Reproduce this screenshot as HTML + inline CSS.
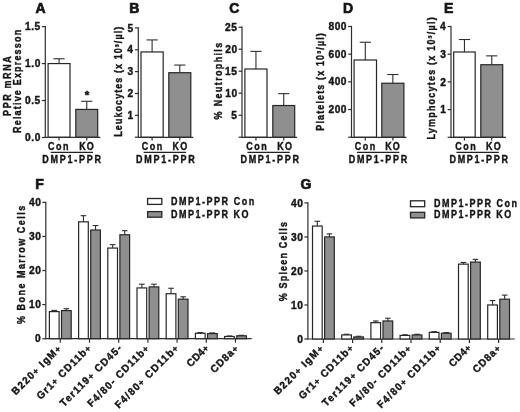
<!DOCTYPE html>
<html><head><meta charset="utf-8"><style>
html,body{margin:0;padding:0;background:#fff;}
svg{display:block;will-change:transform;}
text{font-family:"Liberation Sans", sans-serif;font-weight:bold;fill:#151515;stroke:#151515;stroke-width:0.4px;}
</style></head><body>
<svg width="520" height="412" viewBox="0 0 520 412">
<rect width="520" height="412" fill="#fff"/>
<line x1="45.30" y1="26.00" x2="45.30" y2="137.90" stroke="#2e2e2e" stroke-width="1.2"/>
<line x1="41.90" y1="137.50" x2="45.30" y2="137.50" stroke="#2e2e2e" stroke-width="1.2"/>
<line x1="41.90" y1="100.53" x2="45.30" y2="100.53" stroke="#2e2e2e" stroke-width="1.2"/>
<line x1="41.90" y1="63.57" x2="45.30" y2="63.57" stroke="#2e2e2e" stroke-width="1.2"/>
<line x1="41.90" y1="26.60" x2="45.30" y2="26.60" stroke="#2e2e2e" stroke-width="1.2"/>
<rect x="48.10" y="63.57" width="21.90" height="73.73" fill="#fff" stroke="#262626" stroke-width="1.2"/>
<rect x="75.80" y="109.41" width="21.90" height="27.89" fill="#8f8f8f" stroke="#262626" stroke-width="1.2"/>
<line x1="59.05" y1="63.57" x2="59.05" y2="58.76" stroke="#2e2e2e" stroke-width="1.1"/>
<line x1="53.45" y1="58.76" x2="64.65" y2="58.76" stroke="#2e2e2e" stroke-width="1.1"/>
<line x1="86.75" y1="109.41" x2="86.75" y2="101.27" stroke="#2e2e2e" stroke-width="1.1"/>
<line x1="81.15" y1="101.27" x2="92.35" y2="101.27" stroke="#2e2e2e" stroke-width="1.1"/>
<line x1="44.70" y1="137.30" x2="100.30" y2="137.30" stroke="#2e2e2e" stroke-width="1.2"/>
<line x1="59.05" y1="137.30" x2="59.05" y2="140.60" stroke="#2e2e2e" stroke-width="1.2"/>
<line x1="86.75" y1="137.30" x2="86.75" y2="140.60" stroke="#2e2e2e" stroke-width="1.2"/>
<line x1="50.70" y1="152.30" x2="93.10" y2="152.30" stroke="#222" stroke-width="1.2"/>
<text x="86.9" y="98.6" font-size="11.5" text-anchor="middle" style="stroke-width:0.5px">*</text>
<line x1="138.30" y1="27.30" x2="138.30" y2="137.90" stroke="#2e2e2e" stroke-width="1.2"/>
<line x1="134.90" y1="137.20" x2="138.30" y2="137.20" stroke="#2e2e2e" stroke-width="1.2"/>
<line x1="134.90" y1="115.34" x2="138.30" y2="115.34" stroke="#2e2e2e" stroke-width="1.2"/>
<line x1="134.90" y1="93.48" x2="138.30" y2="93.48" stroke="#2e2e2e" stroke-width="1.2"/>
<line x1="134.90" y1="71.62" x2="138.30" y2="71.62" stroke="#2e2e2e" stroke-width="1.2"/>
<line x1="134.90" y1="49.76" x2="138.30" y2="49.76" stroke="#2e2e2e" stroke-width="1.2"/>
<line x1="134.90" y1="27.90" x2="138.30" y2="27.90" stroke="#2e2e2e" stroke-width="1.2"/>
<rect x="141.00" y="51.95" width="22.20" height="85.35" fill="#fff" stroke="#262626" stroke-width="1.2"/>
<rect x="168.80" y="72.71" width="22.00" height="64.59" fill="#8f8f8f" stroke="#262626" stroke-width="1.2"/>
<line x1="152.10" y1="51.95" x2="152.10" y2="39.92" stroke="#2e2e2e" stroke-width="1.1"/>
<line x1="146.50" y1="39.92" x2="157.70" y2="39.92" stroke="#2e2e2e" stroke-width="1.1"/>
<line x1="179.80" y1="72.71" x2="179.80" y2="65.06" stroke="#2e2e2e" stroke-width="1.1"/>
<line x1="174.20" y1="65.06" x2="185.40" y2="65.06" stroke="#2e2e2e" stroke-width="1.1"/>
<line x1="137.70" y1="137.30" x2="193.30" y2="137.30" stroke="#2e2e2e" stroke-width="1.2"/>
<line x1="152.10" y1="137.30" x2="152.10" y2="140.60" stroke="#2e2e2e" stroke-width="1.2"/>
<line x1="179.80" y1="137.30" x2="179.80" y2="140.60" stroke="#2e2e2e" stroke-width="1.2"/>
<line x1="143.70" y1="152.30" x2="186.10" y2="152.30" stroke="#222" stroke-width="1.2"/>
<line x1="242.00" y1="26.60" x2="242.00" y2="137.90" stroke="#2e2e2e" stroke-width="1.2"/>
<line x1="238.60" y1="137.20" x2="242.00" y2="137.20" stroke="#2e2e2e" stroke-width="1.2"/>
<line x1="238.60" y1="115.20" x2="242.00" y2="115.20" stroke="#2e2e2e" stroke-width="1.2"/>
<line x1="238.60" y1="93.20" x2="242.00" y2="93.20" stroke="#2e2e2e" stroke-width="1.2"/>
<line x1="238.60" y1="71.20" x2="242.00" y2="71.20" stroke="#2e2e2e" stroke-width="1.2"/>
<line x1="238.60" y1="49.20" x2="242.00" y2="49.20" stroke="#2e2e2e" stroke-width="1.2"/>
<line x1="238.60" y1="27.20" x2="242.00" y2="27.20" stroke="#2e2e2e" stroke-width="1.2"/>
<rect x="244.90" y="69.00" width="22.10" height="68.30" fill="#fff" stroke="#262626" stroke-width="1.2"/>
<rect x="272.80" y="105.52" width="21.90" height="31.78" fill="#8f8f8f" stroke="#262626" stroke-width="1.2"/>
<line x1="255.95" y1="69.00" x2="255.95" y2="51.40" stroke="#2e2e2e" stroke-width="1.1"/>
<line x1="250.35" y1="51.40" x2="261.55" y2="51.40" stroke="#2e2e2e" stroke-width="1.1"/>
<line x1="283.75" y1="105.52" x2="283.75" y2="93.64" stroke="#2e2e2e" stroke-width="1.1"/>
<line x1="278.15" y1="93.64" x2="289.35" y2="93.64" stroke="#2e2e2e" stroke-width="1.1"/>
<line x1="241.40" y1="137.30" x2="297.00" y2="137.30" stroke="#2e2e2e" stroke-width="1.2"/>
<line x1="255.95" y1="137.30" x2="255.95" y2="140.60" stroke="#2e2e2e" stroke-width="1.2"/>
<line x1="283.75" y1="137.30" x2="283.75" y2="140.60" stroke="#2e2e2e" stroke-width="1.2"/>
<line x1="247.40" y1="152.30" x2="289.80" y2="152.30" stroke="#222" stroke-width="1.2"/>
<line x1="351.50" y1="25.90" x2="351.50" y2="137.90" stroke="#2e2e2e" stroke-width="1.2"/>
<line x1="348.10" y1="137.20" x2="351.50" y2="137.20" stroke="#2e2e2e" stroke-width="1.2"/>
<line x1="348.10" y1="109.52" x2="351.50" y2="109.52" stroke="#2e2e2e" stroke-width="1.2"/>
<line x1="348.10" y1="81.85" x2="351.50" y2="81.85" stroke="#2e2e2e" stroke-width="1.2"/>
<line x1="348.10" y1="54.17" x2="351.50" y2="54.17" stroke="#2e2e2e" stroke-width="1.2"/>
<line x1="348.10" y1="26.50" x2="351.50" y2="26.50" stroke="#2e2e2e" stroke-width="1.2"/>
<rect x="354.10" y="59.99" width="22.40" height="77.31" fill="#fff" stroke="#262626" stroke-width="1.2"/>
<rect x="381.80" y="83.23" width="22.10" height="54.07" fill="#8f8f8f" stroke="#262626" stroke-width="1.2"/>
<line x1="365.30" y1="59.99" x2="365.30" y2="42.27" stroke="#2e2e2e" stroke-width="1.1"/>
<line x1="359.70" y1="42.27" x2="370.90" y2="42.27" stroke="#2e2e2e" stroke-width="1.1"/>
<line x1="392.85" y1="83.23" x2="392.85" y2="74.52" stroke="#2e2e2e" stroke-width="1.1"/>
<line x1="387.25" y1="74.52" x2="398.45" y2="74.52" stroke="#2e2e2e" stroke-width="1.1"/>
<line x1="350.90" y1="137.30" x2="406.50" y2="137.30" stroke="#2e2e2e" stroke-width="1.2"/>
<line x1="365.30" y1="137.30" x2="365.30" y2="140.60" stroke="#2e2e2e" stroke-width="1.2"/>
<line x1="392.85" y1="137.30" x2="392.85" y2="140.60" stroke="#2e2e2e" stroke-width="1.2"/>
<line x1="356.90" y1="152.30" x2="399.30" y2="152.30" stroke="#222" stroke-width="1.2"/>
<line x1="451.00" y1="25.90" x2="451.00" y2="137.90" stroke="#2e2e2e" stroke-width="1.2"/>
<line x1="447.60" y1="137.30" x2="451.00" y2="137.30" stroke="#2e2e2e" stroke-width="1.2"/>
<line x1="447.60" y1="109.60" x2="451.00" y2="109.60" stroke="#2e2e2e" stroke-width="1.2"/>
<line x1="447.60" y1="81.90" x2="451.00" y2="81.90" stroke="#2e2e2e" stroke-width="1.2"/>
<line x1="447.60" y1="54.20" x2="451.00" y2="54.20" stroke="#2e2e2e" stroke-width="1.2"/>
<line x1="447.60" y1="26.50" x2="451.00" y2="26.50" stroke="#2e2e2e" stroke-width="1.2"/>
<rect x="453.70" y="51.98" width="21.50" height="85.32" fill="#fff" stroke="#262626" stroke-width="1.2"/>
<rect x="480.80" y="64.73" width="21.90" height="72.57" fill="#8f8f8f" stroke="#262626" stroke-width="1.2"/>
<line x1="464.45" y1="51.98" x2="464.45" y2="39.52" stroke="#2e2e2e" stroke-width="1.1"/>
<line x1="458.85" y1="39.52" x2="470.05" y2="39.52" stroke="#2e2e2e" stroke-width="1.1"/>
<line x1="491.75" y1="64.73" x2="491.75" y2="55.86" stroke="#2e2e2e" stroke-width="1.1"/>
<line x1="486.15" y1="55.86" x2="497.35" y2="55.86" stroke="#2e2e2e" stroke-width="1.1"/>
<line x1="450.40" y1="137.30" x2="506.00" y2="137.30" stroke="#2e2e2e" stroke-width="1.2"/>
<line x1="464.45" y1="137.30" x2="464.45" y2="140.60" stroke="#2e2e2e" stroke-width="1.2"/>
<line x1="491.75" y1="137.30" x2="491.75" y2="140.60" stroke="#2e2e2e" stroke-width="1.2"/>
<line x1="456.40" y1="152.30" x2="498.80" y2="152.30" stroke="#222" stroke-width="1.2"/>
<line x1="45.80" y1="201.80" x2="45.80" y2="339.30" stroke="#2e2e2e" stroke-width="1.2"/>
<line x1="42.30" y1="338.70" x2="45.80" y2="338.70" stroke="#2e2e2e" stroke-width="1.2"/>
<line x1="42.30" y1="304.62" x2="45.80" y2="304.62" stroke="#2e2e2e" stroke-width="1.2"/>
<line x1="42.30" y1="270.55" x2="45.80" y2="270.55" stroke="#2e2e2e" stroke-width="1.2"/>
<line x1="42.30" y1="236.47" x2="45.80" y2="236.47" stroke="#2e2e2e" stroke-width="1.2"/>
<line x1="42.30" y1="202.40" x2="45.80" y2="202.40" stroke="#2e2e2e" stroke-width="1.2"/>
<line x1="45.20" y1="338.70" x2="251.70" y2="338.70" stroke="#2e2e2e" stroke-width="1.2"/>
<rect x="49.40" y="311.61" width="9.70" height="27.09" fill="#fff" stroke="#262626" stroke-width="1.2"/>
<rect x="61.50" y="310.59" width="9.70" height="28.11" fill="#8f8f8f" stroke="#262626" stroke-width="1.2"/>
<line x1="54.25" y1="311.61" x2="54.25" y2="310.42" stroke="#2e2e2e" stroke-width="1.1"/>
<line x1="51.45" y1="310.42" x2="57.05" y2="310.42" stroke="#2e2e2e" stroke-width="1.1"/>
<line x1="66.35" y1="310.59" x2="66.35" y2="308.71" stroke="#2e2e2e" stroke-width="1.1"/>
<line x1="63.55" y1="308.71" x2="69.15" y2="308.71" stroke="#2e2e2e" stroke-width="1.1"/>
<line x1="60.30" y1="338.70" x2="60.30" y2="342.70" stroke="#2e2e2e" stroke-width="1.2"/>
<rect x="78.60" y="221.82" width="9.70" height="116.88" fill="#fff" stroke="#262626" stroke-width="1.2"/>
<rect x="90.70" y="230.00" width="9.70" height="108.70" fill="#8f8f8f" stroke="#262626" stroke-width="1.2"/>
<line x1="83.45" y1="221.82" x2="83.45" y2="215.69" stroke="#2e2e2e" stroke-width="1.1"/>
<line x1="80.65" y1="215.69" x2="86.25" y2="215.69" stroke="#2e2e2e" stroke-width="1.1"/>
<line x1="95.55" y1="230.00" x2="95.55" y2="225.57" stroke="#2e2e2e" stroke-width="1.1"/>
<line x1="92.75" y1="225.57" x2="98.35" y2="225.57" stroke="#2e2e2e" stroke-width="1.1"/>
<line x1="89.50" y1="338.70" x2="89.50" y2="342.70" stroke="#2e2e2e" stroke-width="1.2"/>
<rect x="107.80" y="248.06" width="9.70" height="90.64" fill="#fff" stroke="#262626" stroke-width="1.2"/>
<rect x="119.90" y="234.77" width="9.70" height="103.93" fill="#8f8f8f" stroke="#262626" stroke-width="1.2"/>
<line x1="112.65" y1="248.06" x2="112.65" y2="244.65" stroke="#2e2e2e" stroke-width="1.1"/>
<line x1="109.85" y1="244.65" x2="115.45" y2="244.65" stroke="#2e2e2e" stroke-width="1.1"/>
<line x1="124.75" y1="234.77" x2="124.75" y2="230.68" stroke="#2e2e2e" stroke-width="1.1"/>
<line x1="121.95" y1="230.68" x2="127.55" y2="230.68" stroke="#2e2e2e" stroke-width="1.1"/>
<line x1="118.70" y1="338.70" x2="118.70" y2="342.70" stroke="#2e2e2e" stroke-width="1.2"/>
<rect x="137.00" y="287.93" width="9.70" height="50.77" fill="#fff" stroke="#262626" stroke-width="1.2"/>
<rect x="149.10" y="286.91" width="9.70" height="51.79" fill="#8f8f8f" stroke="#262626" stroke-width="1.2"/>
<line x1="141.85" y1="287.93" x2="141.85" y2="284.18" stroke="#2e2e2e" stroke-width="1.1"/>
<line x1="139.05" y1="284.18" x2="144.65" y2="284.18" stroke="#2e2e2e" stroke-width="1.1"/>
<line x1="153.95" y1="286.91" x2="153.95" y2="284.18" stroke="#2e2e2e" stroke-width="1.1"/>
<line x1="151.15" y1="284.18" x2="156.75" y2="284.18" stroke="#2e2e2e" stroke-width="1.1"/>
<line x1="147.90" y1="338.70" x2="147.90" y2="342.70" stroke="#2e2e2e" stroke-width="1.2"/>
<rect x="166.20" y="293.72" width="9.70" height="44.98" fill="#fff" stroke="#262626" stroke-width="1.2"/>
<rect x="178.30" y="299.17" width="9.70" height="39.53" fill="#8f8f8f" stroke="#262626" stroke-width="1.2"/>
<line x1="171.05" y1="293.72" x2="171.05" y2="288.27" stroke="#2e2e2e" stroke-width="1.1"/>
<line x1="168.25" y1="288.27" x2="173.85" y2="288.27" stroke="#2e2e2e" stroke-width="1.1"/>
<line x1="183.15" y1="299.17" x2="183.15" y2="296.79" stroke="#2e2e2e" stroke-width="1.1"/>
<line x1="180.35" y1="296.79" x2="185.95" y2="296.79" stroke="#2e2e2e" stroke-width="1.1"/>
<line x1="177.10" y1="338.70" x2="177.10" y2="342.70" stroke="#2e2e2e" stroke-width="1.2"/>
<rect x="195.40" y="333.25" width="9.70" height="5.45" fill="#fff" stroke="#262626" stroke-width="1.2"/>
<rect x="207.50" y="333.59" width="9.70" height="5.11" fill="#8f8f8f" stroke="#262626" stroke-width="1.2"/>
<line x1="200.25" y1="333.25" x2="200.25" y2="332.57" stroke="#2e2e2e" stroke-width="1.1"/>
<line x1="197.45" y1="332.57" x2="203.05" y2="332.57" stroke="#2e2e2e" stroke-width="1.1"/>
<line x1="212.35" y1="333.59" x2="212.35" y2="332.91" stroke="#2e2e2e" stroke-width="1.1"/>
<line x1="209.55" y1="332.91" x2="215.15" y2="332.91" stroke="#2e2e2e" stroke-width="1.1"/>
<line x1="206.30" y1="338.70" x2="206.30" y2="342.70" stroke="#2e2e2e" stroke-width="1.2"/>
<rect x="224.60" y="336.49" width="9.70" height="2.21" fill="#fff" stroke="#262626" stroke-width="1.2"/>
<rect x="236.70" y="335.80" width="9.70" height="2.90" fill="#8f8f8f" stroke="#262626" stroke-width="1.2"/>
<line x1="229.45" y1="336.49" x2="229.45" y2="335.97" stroke="#2e2e2e" stroke-width="1.1"/>
<line x1="226.65" y1="335.97" x2="232.25" y2="335.97" stroke="#2e2e2e" stroke-width="1.1"/>
<line x1="241.55" y1="335.80" x2="241.55" y2="335.29" stroke="#2e2e2e" stroke-width="1.1"/>
<line x1="238.75" y1="335.29" x2="244.35" y2="335.29" stroke="#2e2e2e" stroke-width="1.1"/>
<line x1="235.50" y1="338.70" x2="235.50" y2="342.70" stroke="#2e2e2e" stroke-width="1.2"/>
<rect x="147.60" y="198.50" width="14.20" height="5.90" fill="#fff" stroke="#262626" stroke-width="1.3"/>
<rect x="147.60" y="211.60" width="14.20" height="5.60" fill="#8f8f8f" stroke="#262626" stroke-width="1.3"/>
<line x1="307.90" y1="202.30" x2="307.90" y2="339.60" stroke="#2e2e2e" stroke-width="1.2"/>
<line x1="304.40" y1="339.00" x2="307.90" y2="339.00" stroke="#2e2e2e" stroke-width="1.2"/>
<line x1="304.40" y1="304.98" x2="307.90" y2="304.98" stroke="#2e2e2e" stroke-width="1.2"/>
<line x1="304.40" y1="270.95" x2="307.90" y2="270.95" stroke="#2e2e2e" stroke-width="1.2"/>
<line x1="304.40" y1="236.93" x2="307.90" y2="236.93" stroke="#2e2e2e" stroke-width="1.2"/>
<line x1="304.40" y1="202.90" x2="307.90" y2="202.90" stroke="#2e2e2e" stroke-width="1.2"/>
<line x1="307.30" y1="339.00" x2="514.80" y2="339.00" stroke="#2e2e2e" stroke-width="1.2"/>
<rect x="312.50" y="226.04" width="9.70" height="112.96" fill="#fff" stroke="#262626" stroke-width="1.2"/>
<rect x="324.60" y="236.93" width="9.70" height="102.07" fill="#8f8f8f" stroke="#262626" stroke-width="1.2"/>
<line x1="317.35" y1="226.04" x2="317.35" y2="221.27" stroke="#2e2e2e" stroke-width="1.1"/>
<line x1="314.55" y1="221.27" x2="320.15" y2="221.27" stroke="#2e2e2e" stroke-width="1.1"/>
<line x1="329.45" y1="236.93" x2="329.45" y2="233.86" stroke="#2e2e2e" stroke-width="1.1"/>
<line x1="326.65" y1="233.86" x2="332.25" y2="233.86" stroke="#2e2e2e" stroke-width="1.1"/>
<line x1="323.40" y1="339.00" x2="323.40" y2="343.00" stroke="#2e2e2e" stroke-width="1.2"/>
<rect x="341.70" y="334.92" width="9.70" height="4.08" fill="#fff" stroke="#262626" stroke-width="1.2"/>
<rect x="353.80" y="336.96" width="9.70" height="2.04" fill="#8f8f8f" stroke="#262626" stroke-width="1.2"/>
<line x1="346.55" y1="334.92" x2="346.55" y2="334.24" stroke="#2e2e2e" stroke-width="1.1"/>
<line x1="343.75" y1="334.24" x2="349.35" y2="334.24" stroke="#2e2e2e" stroke-width="1.1"/>
<line x1="358.65" y1="336.96" x2="358.65" y2="336.28" stroke="#2e2e2e" stroke-width="1.1"/>
<line x1="355.85" y1="336.28" x2="361.45" y2="336.28" stroke="#2e2e2e" stroke-width="1.1"/>
<line x1="352.60" y1="339.00" x2="352.60" y2="343.00" stroke="#2e2e2e" stroke-width="1.2"/>
<rect x="370.90" y="322.67" width="9.70" height="16.33" fill="#fff" stroke="#262626" stroke-width="1.2"/>
<rect x="383.00" y="320.97" width="9.70" height="18.03" fill="#8f8f8f" stroke="#262626" stroke-width="1.2"/>
<line x1="375.75" y1="322.67" x2="375.75" y2="320.97" stroke="#2e2e2e" stroke-width="1.1"/>
<line x1="372.95" y1="320.97" x2="378.55" y2="320.97" stroke="#2e2e2e" stroke-width="1.1"/>
<line x1="387.85" y1="320.97" x2="387.85" y2="318.24" stroke="#2e2e2e" stroke-width="1.1"/>
<line x1="385.05" y1="318.24" x2="390.65" y2="318.24" stroke="#2e2e2e" stroke-width="1.1"/>
<line x1="381.80" y1="339.00" x2="381.80" y2="343.00" stroke="#2e2e2e" stroke-width="1.2"/>
<rect x="400.10" y="335.43" width="9.70" height="3.57" fill="#fff" stroke="#262626" stroke-width="1.2"/>
<rect x="412.20" y="334.92" width="9.70" height="4.08" fill="#8f8f8f" stroke="#262626" stroke-width="1.2"/>
<line x1="404.95" y1="335.43" x2="404.95" y2="334.75" stroke="#2e2e2e" stroke-width="1.1"/>
<line x1="402.15" y1="334.75" x2="407.75" y2="334.75" stroke="#2e2e2e" stroke-width="1.1"/>
<line x1="417.05" y1="334.92" x2="417.05" y2="334.24" stroke="#2e2e2e" stroke-width="1.1"/>
<line x1="414.25" y1="334.24" x2="419.85" y2="334.24" stroke="#2e2e2e" stroke-width="1.1"/>
<line x1="411.00" y1="339.00" x2="411.00" y2="343.00" stroke="#2e2e2e" stroke-width="1.2"/>
<rect x="429.30" y="332.37" width="9.70" height="6.63" fill="#fff" stroke="#262626" stroke-width="1.2"/>
<rect x="441.40" y="333.22" width="9.70" height="5.78" fill="#8f8f8f" stroke="#262626" stroke-width="1.2"/>
<line x1="434.15" y1="332.37" x2="434.15" y2="331.68" stroke="#2e2e2e" stroke-width="1.1"/>
<line x1="431.35" y1="331.68" x2="436.95" y2="331.68" stroke="#2e2e2e" stroke-width="1.1"/>
<line x1="446.25" y1="333.22" x2="446.25" y2="332.54" stroke="#2e2e2e" stroke-width="1.1"/>
<line x1="443.45" y1="332.54" x2="449.05" y2="332.54" stroke="#2e2e2e" stroke-width="1.1"/>
<line x1="440.20" y1="339.00" x2="440.20" y2="343.00" stroke="#2e2e2e" stroke-width="1.2"/>
<rect x="458.50" y="264.14" width="9.70" height="74.86" fill="#fff" stroke="#262626" stroke-width="1.2"/>
<rect x="470.60" y="262.10" width="9.70" height="76.90" fill="#8f8f8f" stroke="#262626" stroke-width="1.2"/>
<line x1="463.35" y1="264.14" x2="463.35" y2="262.44" stroke="#2e2e2e" stroke-width="1.1"/>
<line x1="460.55" y1="262.44" x2="466.15" y2="262.44" stroke="#2e2e2e" stroke-width="1.1"/>
<line x1="475.45" y1="262.10" x2="475.45" y2="259.38" stroke="#2e2e2e" stroke-width="1.1"/>
<line x1="472.65" y1="259.38" x2="478.25" y2="259.38" stroke="#2e2e2e" stroke-width="1.1"/>
<line x1="469.40" y1="339.00" x2="469.40" y2="343.00" stroke="#2e2e2e" stroke-width="1.2"/>
<rect x="487.70" y="304.98" width="9.70" height="34.02" fill="#fff" stroke="#262626" stroke-width="1.2"/>
<rect x="499.80" y="299.19" width="9.70" height="39.81" fill="#8f8f8f" stroke="#262626" stroke-width="1.2"/>
<line x1="492.55" y1="304.98" x2="492.55" y2="300.55" stroke="#2e2e2e" stroke-width="1.1"/>
<line x1="489.75" y1="300.55" x2="495.35" y2="300.55" stroke="#2e2e2e" stroke-width="1.1"/>
<line x1="504.65" y1="299.19" x2="504.65" y2="295.11" stroke="#2e2e2e" stroke-width="1.1"/>
<line x1="501.85" y1="295.11" x2="507.45" y2="295.11" stroke="#2e2e2e" stroke-width="1.1"/>
<line x1="498.60" y1="339.00" x2="498.60" y2="343.00" stroke="#2e2e2e" stroke-width="1.2"/>
<rect x="410.50" y="200.80" width="14.20" height="5.90" fill="#fff" stroke="#262626" stroke-width="1.3"/>
<rect x="410.50" y="212.30" width="14.20" height="5.60" fill="#8f8f8f" stroke="#262626" stroke-width="1.3"/>
<text transform="translate(35.59,12.60) scale(1.0,1)" font-size="14" letter-spacing="0.000" style="stroke-width:0.7px">A</text>
<text transform="translate(47.88,149.70) scale(0.88,1)" font-size="10.2" letter-spacing="1.742">Con</text>
<text transform="translate(79.16,149.70) scale(0.88,1)" font-size="10.2" letter-spacing="1.409">KO</text>
<text transform="translate(42.31,162.90) scale(0.88,1)" font-size="10.2" letter-spacing="2.000">DMP1-PPR</text>
<text transform="translate(10.50,115.94) rotate(-90) scale(0.88,1)" font-size="10.2" letter-spacing="1.858">PPR mRNA</text>
<text transform="translate(21.20,132.94) rotate(-90) scale(0.88,1)" font-size="10.2" letter-spacing="1.361">Relative Expresson</text>
<text transform="translate(129.16,12.60) scale(1.0,1)" font-size="14" letter-spacing="0.000" style="stroke-width:0.7px">B</text>
<text transform="translate(141.68,149.70) scale(0.88,1)" font-size="10.2" letter-spacing="1.742">Con</text>
<text transform="translate(172.56,149.70) scale(0.88,1)" font-size="10.2" letter-spacing="1.409">KO</text>
<text transform="translate(136.11,162.90) scale(0.88,1)" font-size="10.2" letter-spacing="2.000">DMP1-PPR</text>
<text transform="translate(122.20,136.74) rotate(-90) scale(0.88,1)" font-size="10.2" letter-spacing="1.229">Leukocytes (x 10³/µl)</text>
<text transform="translate(229.31,12.60) scale(1.0,1)" font-size="14" letter-spacing="0.000" style="stroke-width:0.7px">C</text>
<text transform="translate(246.23,149.70) scale(0.88,1)" font-size="10.2" letter-spacing="1.742">Con</text>
<text transform="translate(277.26,149.70) scale(0.88,1)" font-size="10.2" letter-spacing="1.409">KO</text>
<text transform="translate(240.41,162.90) scale(0.88,1)" font-size="10.2" letter-spacing="2.000">DMP1-PPR</text>
<text transform="translate(222.40,119.40) rotate(-90) scale(0.88,1)" font-size="10.2" letter-spacing="1.547">% Neutrophils</text>
<text transform="translate(342.95,12.60) scale(1.0,1)" font-size="14" letter-spacing="0.000" style="stroke-width:0.7px">D</text>
<text transform="translate(354.73,149.70) scale(0.88,1)" font-size="10.2" letter-spacing="1.742">Con</text>
<text transform="translate(385.16,149.70) scale(0.88,1)" font-size="10.2" letter-spacing="1.409">KO</text>
<text transform="translate(348.66,162.90) scale(0.88,1)" font-size="10.2" letter-spacing="2.000">DMP1-PPR</text>
<text transform="translate(324.40,130.64) rotate(-90) scale(0.88,1)" font-size="10.2" letter-spacing="1.289">Platelets (x 10³/µl)</text>
<text transform="translate(444.12,12.60) scale(1.0,1)" font-size="14" letter-spacing="0.000" style="stroke-width:0.7px">E</text>
<text transform="translate(455.23,149.70) scale(0.88,1)" font-size="10.2" letter-spacing="1.742">Con</text>
<text transform="translate(486.01,149.70) scale(0.88,1)" font-size="10.2" letter-spacing="1.409">KO</text>
<text transform="translate(449.41,162.90) scale(0.88,1)" font-size="10.2" letter-spacing="2.000">DMP1-PPR</text>
<text transform="translate(434.90,139.54) rotate(-90) scale(0.88,1)" font-size="10.2" letter-spacing="1.390">Lymphocytes (x 10³/µl)</text>
<text transform="translate(35.35,188.80) scale(1.0,1)" font-size="14" letter-spacing="0.000" style="stroke-width:0.7px">F</text>
<text transform="translate(15.72,395.47) rotate(-45) scale(0.95,1)" font-size="10.4" letter-spacing="1.348">B220<tspan font-size="9">+</tspan> IgM<tspan font-size="9">+</tspan></text>
<text transform="translate(40.67,399.93) rotate(-45) scale(0.95,1)" font-size="10.4" letter-spacing="1.201">Gr1<tspan font-size="9">+</tspan> CD11b<tspan font-size="9">+</tspan></text>
<text transform="translate(64.07,407.21) rotate(-45) scale(0.95,1)" font-size="10.4" letter-spacing="1.362">Ter119<tspan font-size="9">+</tspan> CD45-</text>
<text transform="translate(91.41,407.45) rotate(-45) scale(0.95,1)" font-size="10.4" letter-spacing="1.313">F4/80- CD11b<tspan font-size="9">+</tspan></text>
<text transform="translate(119.02,408.97) rotate(-45) scale(0.95,1)" font-size="10.4" letter-spacing="1.404">F4/80<tspan font-size="9">+</tspan> CD11b<tspan font-size="9">+</tspan></text>
<text transform="translate(190.72,367.55) rotate(-45) scale(0.95,1)" font-size="10.4" letter-spacing="0.579">CD4<tspan font-size="9">+</tspan></text>
<text transform="translate(214.58,373.52) rotate(-45) scale(0.95,1)" font-size="10.4" letter-spacing="1.039">CD8a<tspan font-size="9">+</tspan></text>
<text transform="translate(24.60,324.00) rotate(-90) scale(0.88,1)" font-size="10.2" letter-spacing="1.712">% Bone Marrow Cells</text>
<text transform="translate(170.96,204.50) scale(0.88,1)" font-size="10.2" letter-spacing="1.751">DMP1-PPR Con</text>
<text transform="translate(170.96,217.50) scale(0.88,1)" font-size="10.2" letter-spacing="1.727">DMP1-PPR KO</text>
<text transform="translate(300.49,188.80) scale(1.0,1)" font-size="14" letter-spacing="0.000" style="stroke-width:0.7px">G</text>
<text transform="translate(277.92,395.37) rotate(-45) scale(0.95,1)" font-size="10.4" letter-spacing="1.348">B220<tspan font-size="9">+</tspan> IgM<tspan font-size="9">+</tspan></text>
<text transform="translate(302.87,399.83) rotate(-45) scale(0.95,1)" font-size="10.4" letter-spacing="1.201">Gr1<tspan font-size="9">+</tspan> CD11b<tspan font-size="9">+</tspan></text>
<text transform="translate(326.27,407.11) rotate(-45) scale(0.95,1)" font-size="10.4" letter-spacing="1.362">Ter119<tspan font-size="9">+</tspan> CD45-</text>
<text transform="translate(353.61,407.35) rotate(-45) scale(0.95,1)" font-size="10.4" letter-spacing="1.313">F4/80- CD11b<tspan font-size="9">+</tspan></text>
<text transform="translate(381.22,408.87) rotate(-45) scale(0.95,1)" font-size="10.4" letter-spacing="1.404">F4/80<tspan font-size="9">+</tspan> CD11b<tspan font-size="9">+</tspan></text>
<text transform="translate(452.92,367.45) rotate(-45) scale(0.95,1)" font-size="10.4" letter-spacing="0.579">CD4<tspan font-size="9">+</tspan></text>
<text transform="translate(476.78,373.42) rotate(-45) scale(0.95,1)" font-size="10.4" letter-spacing="1.039">CD8a<tspan font-size="9">+</tspan></text>
<text transform="translate(287.30,301.20) rotate(-90) scale(0.88,1)" font-size="10.2" letter-spacing="1.339">% Spleen Cells</text>
<text transform="translate(433.96,206.50) scale(0.88,1)" font-size="10.2" letter-spacing="1.730">DMP1-PPR Con</text>
<text transform="translate(433.96,218.10) scale(0.88,1)" font-size="10.2" letter-spacing="1.716">DMP1-PPR KO</text>
<text transform="translate(25.10,141.10) scale(1.0,1)" font-size="10.2" letter-spacing="0.55">0.0</text>
<text transform="translate(24.98,104.13) scale(1.0,1)" font-size="10.2" letter-spacing="0.55">0.5</text>
<text transform="translate(25.10,67.17) scale(1.0,1)" font-size="10.2" letter-spacing="0.55">1.0</text>
<text transform="translate(24.98,30.20) scale(1.0,1)" font-size="10.2" letter-spacing="0.55">1.5</text>
<text transform="translate(127.48,118.94) scale(1.0,1)" font-size="10.2" letter-spacing="0.55">1</text>
<text transform="translate(127.60,97.08) scale(1.0,1)" font-size="10.2" letter-spacing="0.55">2</text>
<text transform="translate(127.60,75.22) scale(1.0,1)" font-size="10.2" letter-spacing="0.55">3</text>
<text transform="translate(127.35,53.36) scale(1.0,1)" font-size="10.2" letter-spacing="0.55">4</text>
<text transform="translate(127.48,31.50) scale(1.0,1)" font-size="10.2" letter-spacing="0.55">5</text>
<text transform="translate(231.18,118.80) scale(1.0,1)" font-size="10.2" letter-spacing="0.55">5</text>
<text transform="translate(225.18,96.80) scale(1.0,1)" font-size="10.2" letter-spacing="0.55">10</text>
<text transform="translate(225.05,74.80) scale(1.0,1)" font-size="10.2" letter-spacing="0.55">15</text>
<text transform="translate(225.18,52.80) scale(1.0,1)" font-size="10.2" letter-spacing="0.55">20</text>
<text transform="translate(225.05,30.80) scale(1.0,1)" font-size="10.2" letter-spacing="0.55">25</text>
<text transform="translate(328.42,113.12) scale(1.0,1)" font-size="10.2" letter-spacing="0.55">200</text>
<text transform="translate(328.42,85.45) scale(1.0,1)" font-size="10.2" letter-spacing="0.55">400</text>
<text transform="translate(328.42,57.77) scale(1.0,1)" font-size="10.2" letter-spacing="0.55">600</text>
<text transform="translate(328.42,30.10) scale(1.0,1)" font-size="10.2" letter-spacing="0.55">800</text>
<text transform="translate(440.18,113.20) scale(1.0,1)" font-size="10.2" letter-spacing="0.55">1</text>
<text transform="translate(440.30,85.50) scale(1.0,1)" font-size="10.2" letter-spacing="0.55">2</text>
<text transform="translate(440.30,57.80) scale(1.0,1)" font-size="10.2" letter-spacing="0.55">3</text>
<text transform="translate(440.05,30.10) scale(1.0,1)" font-size="10.2" letter-spacing="0.55">4</text>
<text transform="translate(35.10,342.30) scale(1.0,1)" font-size="10.2" letter-spacing="0.55">0</text>
<text transform="translate(28.98,308.23) scale(1.0,1)" font-size="10.2" letter-spacing="0.55">10</text>
<text transform="translate(28.98,274.15) scale(1.0,1)" font-size="10.2" letter-spacing="0.55">20</text>
<text transform="translate(28.98,240.07) scale(1.0,1)" font-size="10.2" letter-spacing="0.55">30</text>
<text transform="translate(28.98,206.00) scale(1.0,1)" font-size="10.2" letter-spacing="0.55">40</text>
<text transform="translate(297.20,342.60) scale(1.0,1)" font-size="10.2" letter-spacing="0.55">0</text>
<text transform="translate(291.08,308.58) scale(1.0,1)" font-size="10.2" letter-spacing="0.55">10</text>
<text transform="translate(291.08,274.55) scale(1.0,1)" font-size="10.2" letter-spacing="0.55">20</text>
<text transform="translate(291.08,240.53) scale(1.0,1)" font-size="10.2" letter-spacing="0.55">30</text>
<text transform="translate(291.08,206.50) scale(1.0,1)" font-size="10.2" letter-spacing="0.55">40</text>
</svg>
</body></html>
